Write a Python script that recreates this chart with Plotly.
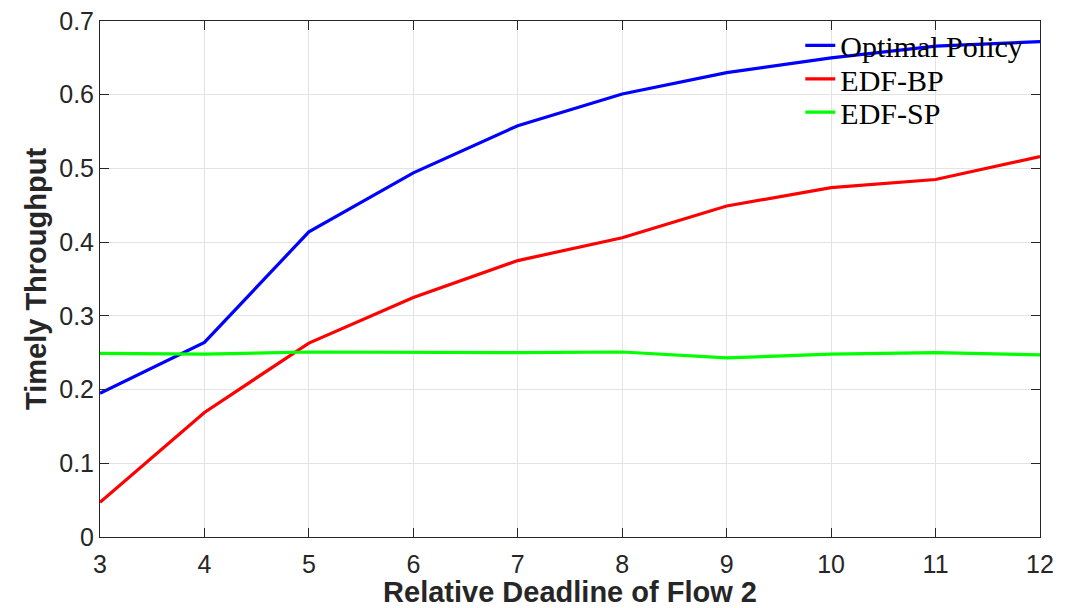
import plotly.graph_objects as go

x_vals = [3, 4, 5, 6, 7, 8, 9, 10, 11, 12]
optimal = [0.195, 0.264, 0.414, 0.494, 0.558, 0.601, 0.630, 0.650, 0.666, 0.672]
edf_bp = [0.047, 0.169, 0.263, 0.325, 0.375, 0.406, 0.449, 0.474, 0.485, 0.516]
edf_sp = [0.249, 0.248, 0.251, 0.250, 0.250, 0.251, 0.243, 0.248, 0.250, 0.247]
series_names = ["Optimal Policy", "EDF-BP", "EDF-SP"]
colors = ["#0000ff", "#ff0000", "#00ff00"]
y_ticks = [0, 0.1, 0.2, 0.3, 0.4, 0.5, 0.6, 0.7]
y_ticktext = ["0", "0.1", "0.2", "0.3", "0.4", "0.5", "0.6", "0.7"]

legend_ids = ["legend", "legend2", "legend3"]
legend_ys = [0.951, 0.886, 0.822]

fig = go.Figure()
for name, ys, c, lid in zip(series_names, [optimal, edf_bp, edf_sp], colors, legend_ids):
    fig.add_trace(go.Scatter(x=x_vals, y=ys, mode="lines", name=name, legend=lid,
                             line=dict(color=c, width=3.2), cliponaxis=False))

axis_common = dict(
    showline=True, linecolor="#262626", linewidth=1, mirror="ticks",
    ticks="inside", ticklen=9, tickcolor="#262626",
    showgrid=True, gridcolor="#e3e3e3", gridwidth=1, zeroline=False,
    automargin=False, ticklabeloverflow="allow",
    tickfont=dict(family="Liberation Sans, Arial", size=25, color="#262626"),
)

legend_style = dict(x=0.745, xanchor="left", yanchor="middle",
                    bgcolor="rgba(0,0,0,0)", borderwidth=0,
                    font=dict(family="Liberation Serif, DejaVu Serif", size=30, color="#000000"),
                    itemwidth=30)

fig.update_layout(
    width=1060, height=600,
    margin=dict(l=92, r=28, t=12, b=71),
    plot_bgcolor="white", paper_bgcolor="white",
    xaxis=dict(range=[3, 12], tickvals=x_vals, **axis_common, ticklabelstandoff=5,
               title=dict(text="<b>Relative Deadline of Flow 2</b>", standoff=0,
                          font=dict(family="Liberation Sans, Arial", size=29, color="#262626"))),
    yaxis=dict(range=[0, 0.7], tickvals=y_ticks, ticktext=y_ticktext, **axis_common,
               title=dict(text="<b>Timely Throughput</b>", standoff=4,
                          font=dict(family="Liberation Sans, Arial", size=29, color="#262626"))),
    legend=dict(y=legend_ys[0], **legend_style),
    legend2=dict(y=legend_ys[1], **legend_style),
    legend3=dict(y=legend_ys[2], **legend_style),
    showlegend=True,
)

fig.write_html("out.html")
